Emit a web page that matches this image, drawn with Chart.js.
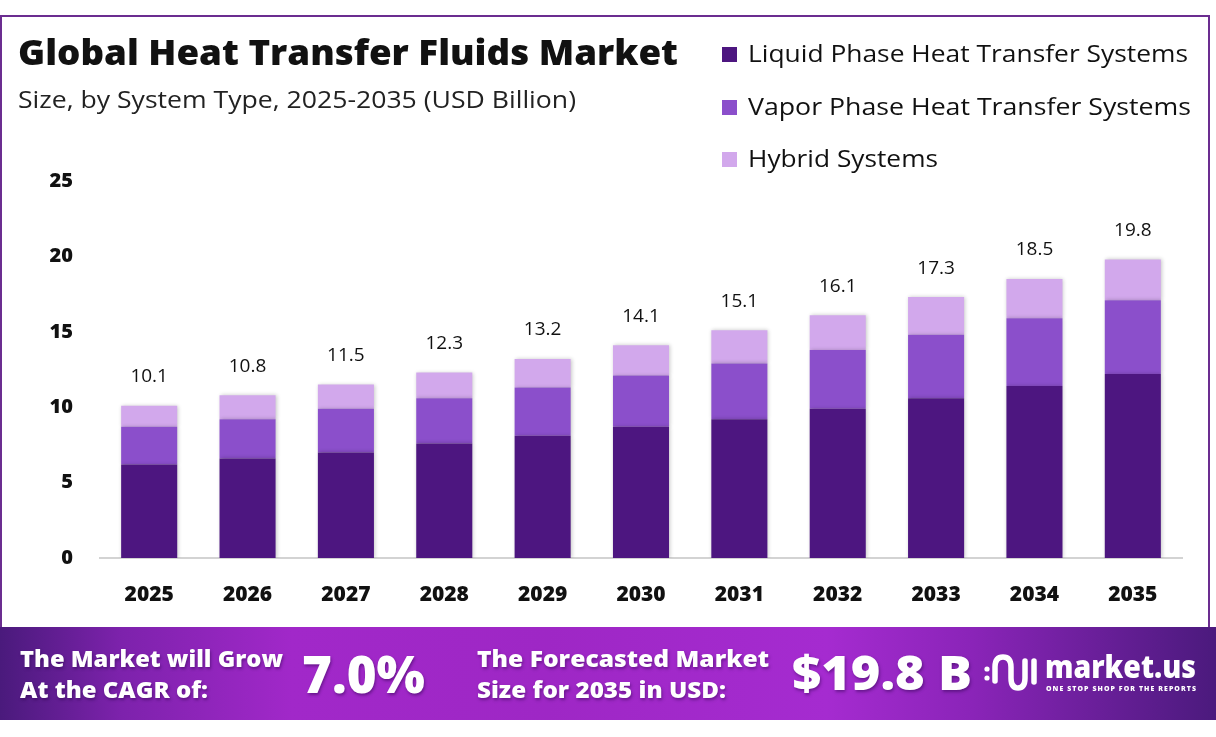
<!DOCTYPE html>
<html>
<head>
<meta charset="utf-8">
<script src="https://cdn.jsdelivr.net/npm/chart.js@4.4.1/dist/chart.umd.min.js"></script>
<style>
  html,body{margin:0;padding:0;background:#fff;}
  #page{position:relative;width:1216px;height:737px;overflow:hidden;background:#fff;font-family:"Open Sans",sans-serif;}
  #frame{position:absolute;left:0;top:15px;width:1210px;height:640px;border:2px solid #6b2d90;box-sizing:border-box;}
  #chartBox{position:absolute;left:0;top:0;width:1216px;height:627px;}
  .fit{transform-origin:0 50%;}
  .title{position:absolute;left:18px;top:34px;font-size:35px;font-weight:800;color:#111;white-space:nowrap;line-height:1;}
  .subtitle{position:absolute;left:18px;top:88px;font-size:23px;font-weight:400;color:#222;white-space:nowrap;line-height:1;}
  .legend{position:absolute;left:722px;top:47px;}
  .legend .item{position:absolute;left:0;white-space:nowrap;font-size:23px;color:#111;line-height:1;}
  .legend .sw{position:absolute;left:0;width:15px;height:15px;}
  .legend .lt{position:absolute;left:26px;top:-5px;}
  #footer{position:absolute;left:0;top:627px;width:1216px;height:93px;
    background:linear-gradient(90deg,#4a1a7c 0%,#7d22ac 10%,#a128c9 24%,#9e27c5 45%,#a52bd0 68%,#8a24b8 80%,#4b1a7d 100%);}
  .ft{position:absolute;color:#fff;font-weight:800;white-space:nowrap;line-height:1;text-shadow:1px 2px 3px rgba(40,0,70,0.45);}
</style>
</head>
<body>
<div id="page">
  <div id="chartBox"><canvas id="c"></canvas></div>
  <div id="frame"></div>
  <div class="title fit" data-w="660">Global Heat Transfer Fluids Market</div>
  <div class="subtitle fit" data-w="558">Size, by System Type, 2025-2035 (USD Billion)</div>
  <div class="legend" id="legend"></div>
  <div id="footer">
    <div class="ft fit" data-w="263" style="left:20px;top:20px;font-size:23px;">The Market will Grow</div>
    <div class="ft fit" data-w="188" style="left:20px;top:51px;font-size:23px;">At the CAGR of:</div>
    <div class="ft fit" data-w="123" style="left:302px;top:20px;font-size:52px;">7.0%</div>
    <div class="ft fit" data-w="292" style="left:477px;top:20px;font-size:23px;">The Forecasted Market</div>
    <div class="ft fit" data-w="249" style="left:477px;top:51px;font-size:23px;">Size for 2035 in USD:</div>
    <div class="ft fit" data-w="180" style="left:792px;top:21px;font-size:48px;">$19.8 B</div>
    <svg style="position:absolute;left:983px;top:24px;" width="56" height="42" viewBox="0 0 56 42">
      <circle cx="4" cy="18" r="2.6" fill="#fff"/>
      <circle cx="4" cy="27" r="2.6" fill="#fff"/>
      <path d="M12 30 L12 16 Q12 6 20 6 Q28 6 28 16 L28 27 Q28 37 35 37 Q42 37 42 27 L42 10" stroke="#fff" stroke-width="5.5" fill="none" stroke-linecap="round" stroke-linejoin="round"/>
      <line x1="51" y1="10" x2="51" y2="31" stroke="#fff" stroke-width="5.5" stroke-linecap="round"/>
    </svg>
    <div class="ft fit" data-w="151" style="left:1045px;top:24px;font-size:31px;text-shadow:none;">market.us</div>
    <div class="ft fit" data-w="151" style="left:1046px;top:59px;font-size:6.5px;text-shadow:none;letter-spacing:1px;">ONE STOP SHOP FOR THE REPORTS</div>
  </div>
</div>
<script>
const years = ['2025','2026','2027','2028','2029','2030','2031','2032','2033','2034','2035'];
const liquidPhase = [6.2, 6.6, 7.0, 7.6, 8.1, 8.7, 9.2, 9.9, 10.6, 11.4, 12.2];
const vaporPhase  = [2.5, 2.6, 2.9, 3.0, 3.2, 3.4, 3.7, 3.9, 4.2, 4.5, 4.9];
const hybridSys   = [1.4, 1.6, 1.6, 1.7, 1.9, 2.0, 2.2, 2.3, 2.5, 2.6, 2.7];
const totalLabels = ['10.1','10.8','11.5','12.3','13.2','14.1','15.1','16.1','17.3','18.5','19.8'];
const seriesNames = ['Liquid Phase Heat Transfer Systems','Vapor Phase Heat Transfer Systems','Hybrid Systems'];
const legendWidths = [440, 443, 190];
const yTicks = [0, 5, 10, 15, 20, 25];

const colors = ['#4d1680','#8b4fcb','#d2a8ec'];
const FONT = '"Open Sans", sans-serif';

// HTML legend
const leg = document.getElementById('legend');
seriesNames.forEach((n,i)=>{
  const it = document.createElement('div');
  it.className='item';
  it.style.top = (i*52.5)+'px';
  it.innerHTML = '<div class="sw" style="background:'+colors[i]+'"></div><div class="lt fit" data-w="'+legendWidths[i]+'">'+n+'</div>';
  leg.appendChild(it);
});

// stretch text horizontally to match reference widths
document.querySelectorAll('.fit').forEach(el=>{
  const target = parseFloat(el.dataset.w);
  const w = el.getBoundingClientRect().width;
  if (w > 0) el.style.transform = 'scaleX(' + (target / w) + ')';
});

const totalsPlugin = {
  id:'totals',
  afterDatasetsDraw(chart){
    const ctx = chart.ctx;
    const meta = chart.getDatasetMeta(2);
    ctx.save();
    ctx.font = '400 19px ' + FONT;
    ctx.fillStyle = '#111';
    ctx.textAlign = 'center';
    ctx.textBaseline = 'middle';
    meta.data.forEach((bar,i)=>{
      ctx.fillText(totalLabels[i], bar.x, bar.y - 29);
    });
    ctx.restore();
  }
};
const shadowPlugin = {
  id:'barShadow',
  beforeDatasetsDraw(chart){
    const ctx = chart.ctx;
    ctx.save();
    ctx.shadowColor = 'rgba(0,0,0,0.22)';
    ctx.shadowBlur = 4;
    ctx.shadowOffsetX = 1;
  },
  afterDatasetsDraw(chart){ chart.ctx.restore(); }
};

new Chart(document.getElementById('c'), {
  type:'bar',
  data:{
    labels: years,
    datasets:[
      {label:seriesNames[0], data:liquidPhase, backgroundColor:colors[0]},
      {label:seriesNames[1], data:vaporPhase, backgroundColor:colors[1]},
      {label:seriesNames[2], data:hybridSys, backgroundColor:colors[2]}
    ]
  },
  options:{
    responsive:true,
    maintainAspectRatio:false,
    animation:false,
    layout:{padding:{left:0,right:34,top:181,bottom:0}},
    datasets:{bar:{barPercentage:0.57,categoryPercentage:1}},
    plugins:{legend:{display:false},tooltip:{enabled:false}},
    scales:{
      x:{
        stacked:true,
        grid:{display:false,drawTicks:false},
        border:{display:true,color:'#d3d3d3',width:2},
        ticks:{color:'#111',font:{family:FONT,size:21,weight:'800'},padding:24},
        afterFit(s){ s.height = 69; }
      },
      y:{
        stacked:true,
        min:0,max:25,
        afterBuildTicks(s){ s.ticks = yTicks.map(v=>({value:v})); },
        grid:{display:false,drawTicks:false},
        border:{display:false},
        ticks:{color:'#111',font:{family:FONT,size:20,weight:'800'},padding:27},
        afterFit(s){ s.width = 100; }
      }
    }
  },
  plugins:[shadowPlugin,totalsPlugin]
});
</script>
</body>
</html>
